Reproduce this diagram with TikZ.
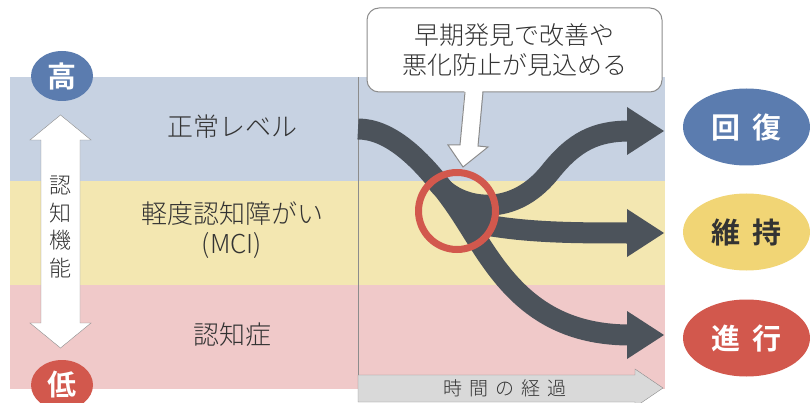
\documentclass[tikz,border=0pt]{standalone}
\usepackage{fontspec}
\setmainfont{Noto Sans CJK JP Light}[BoldFont={Noto Sans CJK JP Bold}]
\usetikzlibrary{shapes.geometric}

\definecolor{bandblue}{HTML}{C7D2E2}
\definecolor{bandyellow}{HTML}{F3E7B1}
\definecolor{bandpink}{HTML}{F0C9C9}
\definecolor{flowgray}{HTML}{4C535B}
\definecolor{alertred}{HTML}{D2584D}
\definecolor{levelblue}{HTML}{5B7CAF}
\definecolor{levelyellow}{HTML}{F1D575}
\definecolor{textgray}{HTML}{333333}
\definecolor{edgegray}{HTML}{8C8C8C}
\definecolor{timegray}{HTML}{D9D9D9}

\newcommand{\bandfont}{\fontsize{26pt}{30pt}\selectfont}
\newcommand{\notefont}{\fontsize{25pt}{30pt}\selectfont}
\newcommand{\axisfont}{\fontsize{22pt}{27.7pt}\selectfont}
\newcommand{\badgefont}{\fontsize{29pt}{34pt}\selectfont\bfseries}
\newcommand{\timefont}{\fontsize{19pt}{22pt}\selectfont}

\begin{document}
\begin{tikzpicture}[x=1pt,y=-1pt,
    bandlabel/.style={text=textgray,font=\bandfont,align=center,inner sep=0pt},
    badge/.style={ellipse,inner sep=0pt,minimum width=127pt,minimum height=77pt,font=\badgefont},
    level/.style={ellipse,inner sep=0pt,minimum width=62pt,minimum height=50pt,text=white,font=\badgefont},
    flow/.style={line width=21pt,draw=flowgray}]
  \useasboundingbox (0,0) rectangle (810,403);

  % bands
  \fill[bandblue] (10,77) rectangle (665,181);
  \fill[bandyellow] (10,181) rectangle (665,285);
  \fill[bandpink] (10,285) rectangle (665,389);
  \draw[edgegray,line width=1pt] (358,77) -- (358,389);

  \node[bandlabel] (normal) at (232,127) {正常レベル};
  \node[bandlabel] (mci) at (232,230) {軽度認知障がい\\(MCI)};
  \node[bandlabel] (dementia) at (232,335) {認知症};

  % cognitive function axis
  \draw[fill=white,draw=edgegray] (60.5,115) -- (91,140) -- (80,140) -- (80,323) -- (91,323)
    -- (60.5,348) -- (30,323) -- (41,323) -- (41,140) -- (30,140) -- cycle;
  \node[text=textgray,font=\axisfont,align=center,inner sep=0pt] (axis) at (60,227) {認\\知\\機\\能};
  \node[level,fill=levelblue] (high) at (62,76) {高};
  \node[level,fill=alertred] (low) at (62,385) {低};

  % flows
  \coordinate (start) at (358,129);
  \coordinate (hub) at (455,205);
  \draw[flow] (start) .. controls (388,129) and (420,155) .. (hub)
    .. controls (490,255) and (520,335) .. (630,335);
  \draw[flow] (437,182) .. controls (455,207) and (510,222) .. (550,172)
    .. controls (574,142) and (595,131) .. (630,131);
  \draw[flow] (462,220) .. controls (515,233) and (570,233) .. (630,233);
  \fill[flowgray] (450,198) -- (492,208) -- (500,226) -- (482,244) -- (462,230) -- cycle;
  \foreach \y in {131,233,335}
    \fill[flowgray] (627,\y-24) -- (664,\y) -- (627,\y+24) -- cycle;

  \node[circle,draw=alertred,line width=7pt,minimum size=77pt,inner sep=0pt] (focus) at (457,211) {};

  % callout
  \node[draw=edgegray,fill=white,line width=1pt,rounded corners=12pt,minimum width=295pt,
    minimum height=84pt,align=center,text=textgray,font=\notefont] (note) at (514.5,50)
    {早期発見で改善や\\悪化防止が見込める};
  \coordinate (tip) at (463,167);
  \fill[white] (465,85) -- (460,145) -- (448,145) -- (tip) -- (488,147) -- (478,146) -- (483,85) -- cycle;
  \draw[edgegray,line width=1pt] (465,92) -- (460,145) -- (448,145) -- (tip) -- (488,147) -- (478,146) -- (483,92);

  % time axis
  \draw[fill=timegray,draw=edgegray] (358,375) -- (635,375) -- (635,369) -- (663,388)
    -- (635,407) -- (635,402) -- (358,402) -- cycle;
  \node[text=textgray,font=\timefont,inner sep=0pt] (time) at (505,388)
    {時\hspace{7pt}間\hspace{7pt}の\hspace{7pt}経\hspace{7pt}過};

  % outcomes
  \node[badge,fill=levelblue,text=white] (recover) at (746.5,127) {回\hspace{12pt}復};
  \node[badge,fill=levelyellow,text=textgray] (keep) at (746.5,232) {維\hspace{12pt}持};
  \node[badge,fill=alertred,text=white] (progress) at (746.5,338) {進\hspace{12pt}行};
\end{tikzpicture}
\end{document}
